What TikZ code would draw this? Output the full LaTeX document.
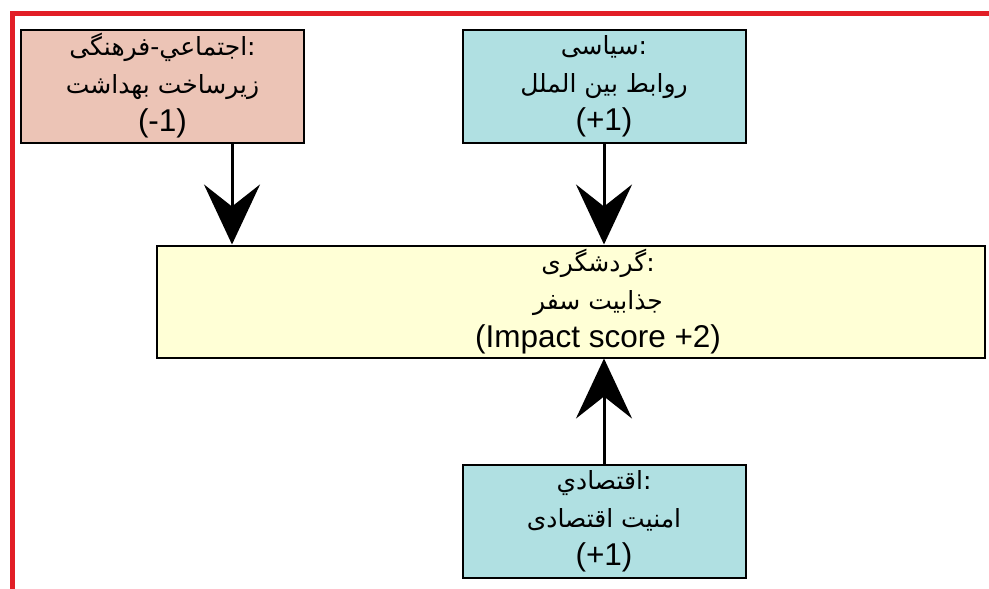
\documentclass[tikz,border=0pt]{standalone}
\usepackage{fontspec}
\setmainfont{Liberation Sans}
\newfontfamily\arabicfont[Script=Arabic]{DejaVu Sans}
\TeXXeTstate=1
\usetikzlibrary{positioning, arrows.meta}
\newcommand{\fatext}[1]{{\arabicfont\fontsize{25}{38}\selectfont\beginR #1\endR}}
\newcommand{\latext}[1]{\beginL #1\endL{}}
\definecolor{framered}{RGB}{226,30,38}
\definecolor{socialfill}{RGB}{236,196,182}
\definecolor{politicfill}{RGB}{176,224,226}
\definecolor{tourfill}{RGB}{255,255,214}

\begin{document}
\begin{tikzpicture}[
    x=1pt, y=-1pt,
    % GLOBAL CFG
    font=\fontsize{31.5}{38}\selectfont,
    % Styles
    factor/.style={% For the three factor boxes
        rectangle,
        draw=black,
        line width=2pt,
        minimum width=283pt,
        minimum height=113pt,
        inner sep=1pt,
        align=center,
    },
    tourism/.style={% For the central box
        rectangle,
        draw=black,
        line width=2pt,
        minimum width=828pt,
        minimum height=112pt,
        inner sep=1pt,
        fill=tourfill,
    },
    boxtext/.style={% For text laid on a box
        align=center,
        inner sep=1pt,
    },
    flow/.style={% Big black arrows
        -{Stealth[length=60pt, width=56pt, inset=22pt]},
        line width=3pt,
    },
    ]
    \useasboundingbox (0,0) rectangle (989,589);

    % Frame
    \draw [framered, line width=5pt] (989,13) -- (12,13) -- (12,589);

    % Draw boxes
    \node [factor, fill=socialfill] (social) at (162.5,86)
        {\fatext{:اجتماعي-فرهنگی}\\ \fatext{زیرساخت بهداشت}\\ \latext{(-1)}};
    \node [factor, fill=politicfill] (politic) at (604,86)
        {\fatext{:سیاسی}\\ \fatext{روابط بین الملل}\\ \latext{(+1)}};
    \node [tourism] (tour) at (571,301.5) {};
    \node [boxtext] (tourtext) at (598,302)
        {\fatext{:گردشگری}\\ \fatext{جذابیت سفر}\\ \latext{(Impact score +2)}};
    \node [factor, fill=politicfill] (econ) at (604,521)
        {\fatext{:اقتصادي}\\ \fatext{امنیت اقتصادی}\\ \latext{(+1)}};

    % Coordinates
    \coordinate (socialout) at (232,142.5);

    % Arrows
    \draw [flow] (socialout) -- (socialout |- tour.north);
    \draw [flow] (politic.south) -- (politic.south |- tour.north);
    \draw [flow] (econ.north) -- (econ.north |- tour.south);

\end{tikzpicture}
\end{document}
